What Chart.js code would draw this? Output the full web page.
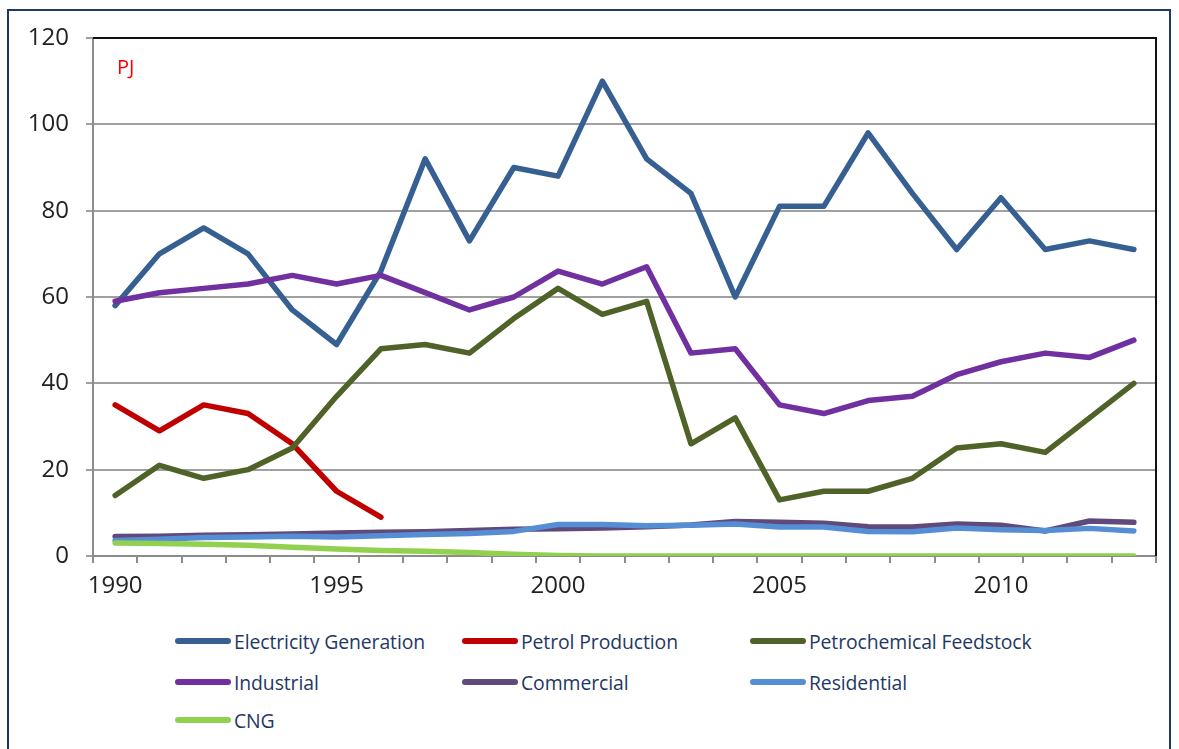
<!DOCTYPE html>
<html>
<head>
<meta charset="utf-8">
<script src="https://cdn.jsdelivr.net/npm/chart.js@4"></script>
<style>
  html, body { margin: 0; padding: 0; background: #fff; }
  body { width: 1179px; height: 749px; position: relative; overflow: hidden; font-family: "Open Sans", sans-serif; }
  #frame { position: absolute; left: 7px; top: 9px; width: 1164px; height: 760px; border: 2px solid #1f3864; box-sizing: border-box; }
  #wrap { position: absolute; left: 0; top: 0; width: 1179px; height: 610px; }
  #unit { position: absolute; left: 117px; top: 53px; color: #ff0000; font-size: 20px; }
  .leg { position: absolute; height: 30px; display: flex; align-items: center; color: #1f3864; font-size: 19.4px; white-space: nowrap; letter-spacing: -0.1px; }
  .leg i { display: inline-block; width: 56px; height: 6px; border-radius: 3px; margin-right: 3px; }
</style>
</head>
<body>
<div id="frame"></div>
<div id="wrap"><canvas id="gasChart"></canvas></div>
<div id="unit">PJ</div>
<div id="legend"></div>
<script>
// Données (PJ par année)
const years = ['1990','1991','1992','1993','1994','1995','1996','1997','1998','1999','2000','2001',
               '2002','2003','2004','2005','2006','2007','2008','2009','2010','2011','2012','2013'];
const electricity = [58, 70, 76, 70, 57, 49, 66, 92, 73, 90, 88, 110, 92, 84, 60, 81, 81, 98, 84, 71, 83, 71, 73, 71];
const petrol = [35, 29, 35, 33, 26, 15, 9, null, null, null, null, null, null, null, null, null, null, null, null, null, null, null, null, null];
const petrochemical = [14, 21, 18, 20, 25, 37, 48, 49, 47, 55, 62, 56, 59, 26, 32, 13, 15, 15, 18, 25, 26, 24, 32, 40];
const industrial = [59, 61, 62, 63, 65, 63, 65, 61, 57, 60, 66, 63, 67, 47, 48, 35, 33, 36, 37, 42, 45, 47, 46, 50];
const commercial = [4.5, 4.6, 4.8, 4.9, 5.1, 5.3, 5.5, 5.6, 5.9, 6.2, 6.3, 6.5, 6.8, 7.2, 8, 7.8, 7.6, 6.8, 6.7, 7.4, 7.1, 5.8, 8.1, 7.8];
const residential = [3.6, 3.9, 4.3, 4.4, 4.6, 4.4, 4.7, 5, 5.2, 5.7, 7.3, 7.3, 7, 7.1, 7.4, 6.7, 6.7, 5.7, 5.6, 6.5, 6.1, 5.9, 6.4, 5.8];
const cng = [3, 2.9, 2.7, 2.5, 2, 1.6, 1.3, 1.1, 0.8, 0.4, 0.1, 0, 0, 0, 0, 0, 0, 0, 0, 0, 0, 0, 0, 0];
const yTicks = [0, 20, 40, 60, 80, 100, 120];

const palette = {
  electricity: '#376092',
  petrol: '#c00000',
  petrochemical: '#4f6228',
  industrial: '#7030a0',
  commercial: '#604a7b',
  residential: '#558ed5',
  cng: '#92d050'
};

const series = [
  ['Electricity Generation', electricity, palette.electricity],
  ['Petrol Production', petrol, palette.petrol],
  ['Petrochemical Feedstock', petrochemical, palette.petrochemical],
  ['Industrial', industrial, palette.industrial],
  ['Commercial', commercial, palette.commercial],
  ['Residential', residential, palette.residential],
  ['CNG', cng, palette.cng]
];

// cadre noir en haut et à droite de la zone de tracé (style Excel)
const plotBorder = {
  id: 'plotBorder',
  beforeDatasetsDraw(chart) {
    const a = chart.chartArea, ctx = chart.ctx;
    ctx.save();
    ctx.strokeStyle = '#111';
    ctx.lineWidth = 2;
    ctx.beginPath();
    ctx.moveTo(a.left, a.top);
    ctx.lineTo(a.right, a.top);
    ctx.lineTo(a.right, a.bottom);
    ctx.stroke();
    ctx.restore();
  }
};

const chart = new Chart(document.getElementById('gasChart'), {
  type: 'line',
  data: {
    labels: years,
    datasets: series.map((s, i) => ({
      label: s[0],
      data: s[1],
      borderColor: s[2],
      backgroundColor: s[2],
      borderWidth: 5.5,
      borderCapStyle: 'round',
      borderJoinStyle: 'round',
      pointRadius: 0,
      tension: 0,
      spanGaps: false,
      order: series.length - i
    }))
  },
  options: {
    responsive: true,
    maintainAspectRatio: false,
    animation: false,
    layout: { padding: { top: 38, right: 23, left: 0, bottom: 0 } },
    scales: {
      x: {
        offset: true,
        grid: { display: true, drawOnChartArea: false, offset: true, tickLength: 7, color: '#8c8c8c', lineWidth: 2 },
        border: { color: '#8c8c8c', width: 2 },
        ticks: {
          autoSkip: false,
          maxRotation: 0,
          padding: 9,
          color: '#222',
          font: { family: 'Open Sans', size: 24 },
          callback: function(v, i) { return i % 5 === 0 ? years[i] : ''; }
        },
        afterFit: function(scale) { scale.height = 54; }
      },
      y: {
        min: 0,
        max: 120,
        afterBuildTicks: function(scale) { scale.ticks = yTicks.map(v => ({ value: v })); },
        grid: { color: '#a0a0a0', lineWidth: 2, tickLength: 7 },
        border: { color: '#8c8c8c', width: 2 },
        ticks: {
          padding: 17,
          color: '#222',
          font: { family: 'Open Sans', size: 24 }
        },
        afterFit: function(scale) { scale.width = 93; }
      }
    },
    plugins: {
      legend: { display: false },
      tooltip: { enabled: false }
    }
  },
  plugins: [plotBorder]
});

// Légende HTML sur trois colonnes
const legendCols = [175, 462, 750];
const legendRows = [641, 682, 720];
const legendBox = document.getElementById('legend');
chart.data.datasets.forEach((ds, i) => {
  const el = document.createElement('div');
  el.className = 'leg';
  el.style.left = legendCols[i % 3] + 'px';
  el.style.top = (legendRows[Math.floor(i / 3)] - 15) + 'px';
  el.innerHTML = '<i style="background:' + ds.borderColor + '"></i>' + ds.label;
  legendBox.appendChild(el);
});
</script>
</body>
</html>
